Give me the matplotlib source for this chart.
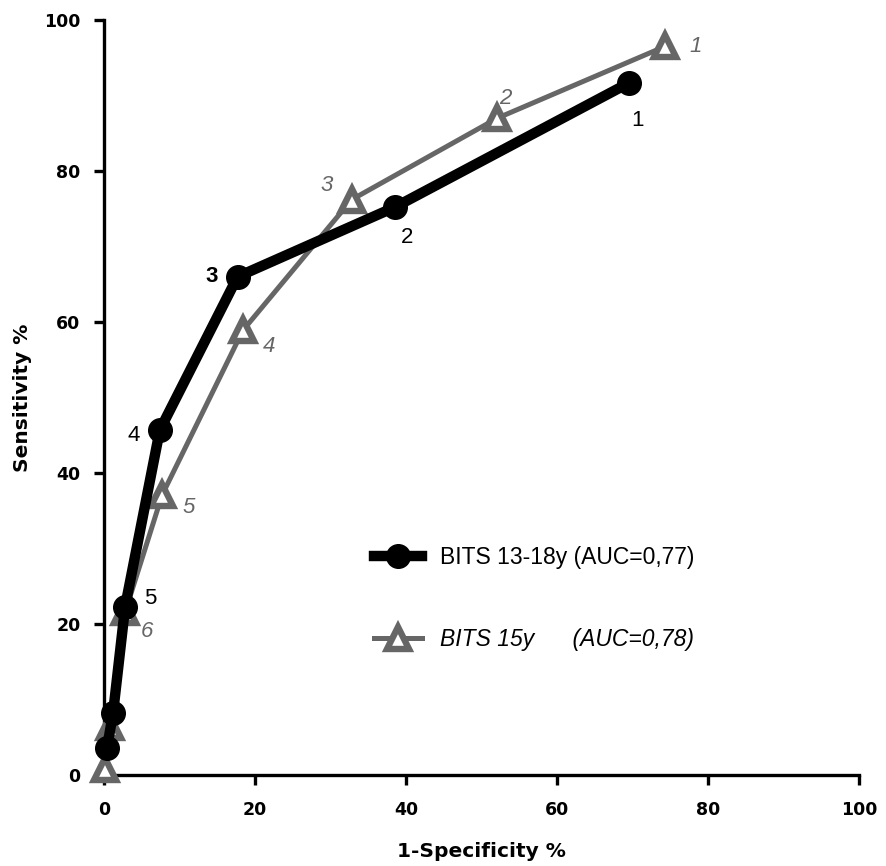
import matplotlib
matplotlib.use("Agg")
import matplotlib.pyplot as plt
from matplotlib.lines import Line2D

# ---- data ----
black_x = [0.4, 1.2, 2.8, 7.4, 17.7, 38.5, 69.6]
black_y = [3.6, 8.2, 22.3, 45.7, 66.0, 75.2, 91.7]
black_labels = ["", "", "5", "4", "3", "2", "1"]

gray_x = [0.1, 0.8, 2.8, 7.7, 18.4, 32.8, 52.1, 74.3]
gray_y = [0.8, 6.4, 21.6, 37.1, 58.9, 76.2, 87.0, 96.5]
gray_labels = ["", "", "6", "5", "4", "3", "2", "1"]

legend_labels = ["BITS 13-18y (AUC=0,77)", "BITS 15y      (AUC=0,78)"]
x_ticks = [0, 20, 40, 60, 80, 100]
y_ticks = [0, 20, 40, 60, 80, 100]

# ---- style ----
GRAY = "#666666"
black_off = {"1": (6, -27), "2": (9, -22), "3": (-19, 0), "4": (-19, -4), "5": (18, 6)}
gray_off = {"1": (22, 0), "2": (6, 14), "3": (-18, 10), "4": (19, -12), "5": (19, -9), "6": (16, -14)}

fig = plt.figure(figsize=(8.87, 8.66), dpi=100)
ax = fig.add_axes([104 / 887, 1 - 775 / 866, 755 / 887, 755 / 866])

ax.plot(gray_x, gray_y, color=GRAY, lw=3.6, marker="^", ms=16, mfc="white",
        mec=GRAY, mew=4.6, clip_on=False, zorder=3)
ax.plot(black_x, black_y, color="black", lw=7.5, marker="o", ms=17, mfc="black",
        mec="black", clip_on=False, zorder=4)

for x, y, t in zip(black_x, black_y, black_labels):
    if t:
        ax.annotate(t, (x, y), xytext=black_off[t], textcoords="offset points",
                    ha="center", va="center", fontsize=16, family="Liberation Sans",
                    fontweight="bold" if t == "3" else "normal", color="black", zorder=5)
for x, y, t in zip(gray_x, gray_y, gray_labels):
    if t:
        ax.annotate(t, (x, y), xytext=gray_off[t], textcoords="offset points",
                    ha="center", va="center", fontsize=16, family="Liberation Sans",
                    style="italic", color=GRAY, zorder=5)

ax.set_xlim(0, 100)
ax.set_ylim(0, 100)
ax.set_xticks(x_ticks)
ax.set_yticks(y_ticks)
ax.set_xticklabels([str(v) for v in x_ticks], fontsize=12.5, fontweight="bold", family="DejaVu Sans")
ax.set_yticklabels([str(v) for v in y_ticks], fontsize=12.5, fontweight="bold", family="DejaVu Sans")
for s in ["top", "right"]:
    ax.spines[s].set_visible(False)
for s in ["left", "bottom"]:
    ax.spines[s].set_linewidth(2.4)
ax.tick_params(axis="x", direction="out", length=7, width=2.4, pad=12)
ax.tick_params(axis="y", direction="out", length=7, width=2.4, pad=10)
ax.set_xlabel("1-Specificity %", fontsize=14.5, fontweight="bold", family="DejaVu Sans", labelpad=16)
ax.set_ylabel("Sensitivity %", fontsize=14.5, fontweight="bold", family="DejaVu Sans", labelpad=9)

handles = [
    Line2D([0], [0], color="black", lw=7.5, marker="o", ms=17, mfc="black", mec="black"),
    Line2D([0], [0], color=GRAY, lw=3.6, marker="^", ms=16, mfc="white", mec=GRAY, mew=4.6),
]
leg = ax.legend(handles, legend_labels, loc="center left", bbox_to_anchor=(0.358, 0.234),
                frameon=False, borderpad=0, borderaxespad=0, handlelength=2.1,
                handletextpad=0.75, labelspacing=2.6,
                prop={"family": "Liberation Sans", "size": 16.5})
leg.get_texts()[1].set_style("italic")

fig.savefig("out.png", dpi=100)
